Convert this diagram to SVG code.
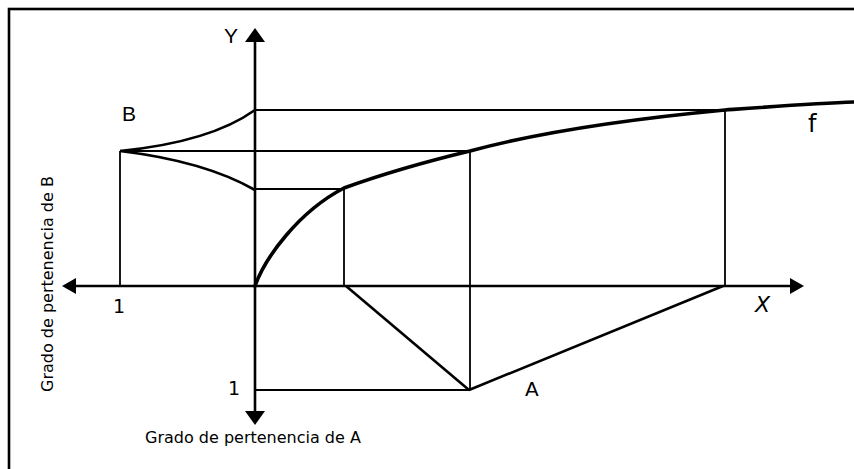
<svg xmlns="http://www.w3.org/2000/svg" width="854" height="469" viewBox="0 0 854 469">
<style>
.thin{stroke:#000;stroke-width:1.8;fill:none}
.axis{stroke:#000;stroke-width:2.6;fill:none}
.mid{stroke:#000;stroke-width:2.6;fill:none}
.thick{stroke:#000;stroke-width:3.6;fill:none;stroke-linecap:round}
.arr{fill:#000}
.v{font-family:"DejaVu Sans",Verdana,sans-serif;fill:#000}
.a{font-family:"Liberation Sans",Arial,sans-serif;fill:#000}
</style>
<rect x="0" y="0" width="854" height="469" fill="#fff"/>
<rect x="9" y="9" width="870" height="480" fill="none" stroke="#000" stroke-width="2.6"/>
<g id="connectors">
<line class="thin" x1="255" y1="110" x2="725" y2="110"/>
<line class="thin" x1="120" y1="151" x2="470" y2="151"/>
<line class="thin" x1="255" y1="189" x2="344" y2="189"/>
<line class="thin" x1="120" y1="151" x2="120" y2="286"/>
<line class="thin" x1="344" y1="189" x2="344" y2="286"/>
<line class="thin" x1="470" y1="151" x2="470" y2="390"/>
<line class="thin" x1="725" y1="110" x2="725" y2="286"/>
<line class="thin" x1="255" y1="390" x2="470" y2="390"/>
<line class="mid" x1="346" y1="286" x2="469" y2="390"/>
<line class="mid" x1="469" y1="390" x2="723" y2="286"/>
</g>
<g id="axes">
<line class="axis" x1="255" y1="40" x2="255" y2="412"/>
<polygon class="arr" points="255,28 245,42 265,42"/>
<polygon class="arr" points="255,425 245,411 265,411"/>
<line class="axis" x1="74" y1="286" x2="792" y2="286"/>
<polygon class="arr" points="62,286 76,278 76,294"/>
<polygon class="arr" points="804,286 790,278 790,294"/>
</g>
<g id="curve-f">
<path class="thick" d="M255,286 C265,258 298,212 344,188 C380,175 420,163 470,151 C540,132 620,120 725,110 C780,106 820,103 856,102"/>
</g>
<g id="curve-B">
<path class="mid" d="M120,151 C170,146 220,135 255,110"/>
<path class="mid" d="M120,151 C170,157 220,170 255,190"/>
</g>
<g id="labels">
<text class="a" x="224" y="43" font-size="21">Y</text>
<text class="a" x="122" y="121" font-size="21">B</text>
<text class="v" x="113" y="313" font-size="19">1</text>
<text class="v" x="228" y="395" font-size="19">1</text>
<text class="v" x="525" y="396" font-size="20">A</text>
<text class="v" x="755" y="312" font-size="22" font-style="italic">X</text>
<text class="v" x="808" y="132" font-size="24">f</text>
<text class="v" x="145" y="443" font-size="16">Grado de pertenencia de A</text>
<text class="v" font-size="16" transform="translate(53,392) rotate(-90)">Grado de pertenencia de B</text>
</g>
</svg>
